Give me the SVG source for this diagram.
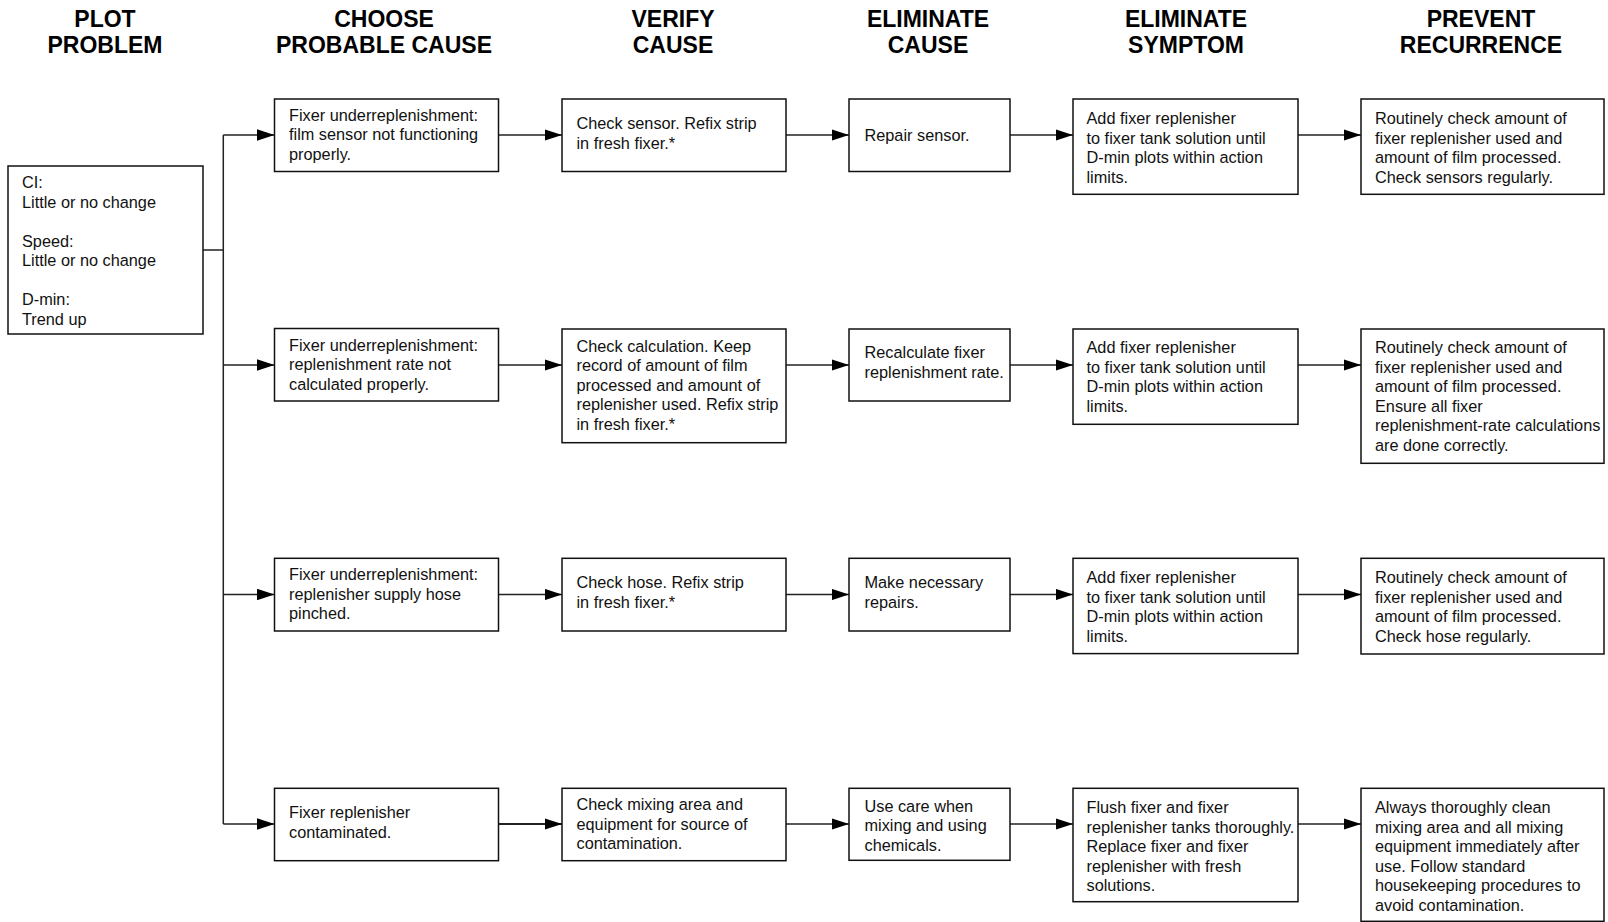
<svg xmlns="http://www.w3.org/2000/svg" width="1608" height="922" viewBox="0 0 1608 922">
  <style>
    .bg { fill: #ffffff; }
    .box { fill: #ffffff; stroke: #111111; stroke-width: 1.5; }
    .hd { font-family: "Liberation Sans", Arial, sans-serif; font-weight: bold; font-size: 23px; fill: #000000; text-anchor: middle; }
    .tx { font-family: "Liberation Sans", Arial, sans-serif; font-size: 16.3px; fill: #111111; }
    .ln { fill: none; stroke: #222222; stroke-width: 1.5; }
    .ar { fill: none; stroke: #222222; stroke-width: 1.5; marker-end: url(#head); }
  </style>
  <defs>
    <marker id="head" viewBox="0 0 17.5 11.5" refX="17.5" refY="5.75" markerWidth="17.5" markerHeight="11.5" markerUnits="userSpaceOnUse" orient="auto">
      <path d="M0,0 L17.5,5.75 L0,11.5 Z" fill="#000000"/>
    </marker>
  </defs>

  <rect class="bg" x="0" y="0" width="1608" height="922"/>

  <!-- column headings -->
  <g id="headings">
    <text class="hd" x="105" y="27">PLOT</text>
    <text class="hd" x="105" y="53">PROBLEM</text>
    <text class="hd" x="384" y="27">CHOOSE</text>
    <text class="hd" x="384" y="53">PROBABLE CAUSE</text>
    <text class="hd" x="673" y="27">VERIFY</text>
    <text class="hd" x="673" y="53">CAUSE</text>
    <text class="hd" x="928" y="27">ELIMINATE</text>
    <text class="hd" x="928" y="53">CAUSE</text>
    <text class="hd" x="1186" y="27">ELIMINATE</text>
    <text class="hd" x="1186" y="53">SYMPTOM</text>
    <text class="hd" x="1481" y="27">PREVENT</text>
    <text class="hd" x="1481" y="53">RECURRENCE</text>
  </g>

  <!-- connectors -->
  <g id="connectors">
    <path class="ln" d="M203,250 H223.3 M223.3,135 V824"/>
    <path class="ar" d="M223.3,135 H274.5"/>
    <path class="ar" d="M223.3,365 H274.5"/>
    <path class="ar" d="M223.3,594.5 H274.5"/>
    <path class="ar" d="M223.3,824 H274.5"/>

    <path class="ar" d="M498.5,135 H562"/>
    <path class="ar" d="M786,135 H849"/>
    <path class="ar" d="M1010,135 H1073"/>
    <path class="ar" d="M1298,135 H1361"/>

    <path class="ar" d="M498.5,365 H562"/>
    <path class="ar" d="M786,365 H849"/>
    <path class="ar" d="M1010,365 H1073"/>
    <path class="ar" d="M1298,365 H1361"/>

    <path class="ar" d="M498.5,594.5 H562"/>
    <path class="ar" d="M786,594.5 H849"/>
    <path class="ar" d="M1010,594.5 H1073"/>
    <path class="ar" d="M1298,594.5 H1361"/>

    <path class="ar" d="M498.5,824 H562" style="stroke-width:2"/>
    <path class="ar" d="M786,824 H849"/>
    <path class="ar" d="M1010,824 H1073"/>
    <path class="ar" d="M1298,824 H1361"/>
  </g>

  <!-- plot problem -->
  <g id="plot">
    <rect class="box" x="8" y="166" width="195" height="168"/>
    <text class="tx">
      <tspan x="22" y="188">CI:</tspan>
      <tspan x="22" y="207.5">Little or no change</tspan>
      <tspan x="22" y="246.5">Speed:</tspan>
      <tspan x="22" y="266">Little or no change</tspan>
      <tspan x="22" y="305">D-min:</tspan>
      <tspan x="22" y="324.5">Trend up</tspan>
    </text>
  </g>

  <!-- row 1 -->
  <g id="cause1">
    <rect class="box" x="274.5" y="99" width="224" height="72.5"/>
    <text class="tx">
      <tspan x="289" y="120.5">Fixer underreplenishment:</tspan>
      <tspan x="289" y="140">film sensor not functioning</tspan>
      <tspan x="289" y="159.5">properly.</tspan>
    </text>
  </g>
  <g id="verify1">
    <rect class="box" x="562" y="99" width="224" height="72.5"/>
    <text class="tx">
      <tspan x="576.5" y="129.3">Check sensor. Refix strip</tspan>
      <tspan x="576.5" y="148.8">in fresh fixer.*</tspan>
    </text>
  </g>
  <g id="elimcause1">
    <rect class="box" x="849" y="99" width="161" height="72.5"/>
    <text class="tx"><tspan x="864.5" y="141">Repair sensor.</tspan></text>
  </g>
  <g id="elimsymptom1">
    <rect class="box" x="1073" y="99" width="225" height="95.3"/>
    <text class="tx">
      <tspan x="1086.5" y="124">Add fixer replenisher</tspan>
      <tspan x="1086.5" y="143.5">to fixer tank solution until</tspan>
      <tspan x="1086.5" y="163">D-min plots within action</tspan>
      <tspan x="1086.5" y="182.5">limits.</tspan>
    </text>
  </g>
  <g id="prevent1">
    <rect class="box" x="1361" y="99" width="243" height="95.3"/>
    <text class="tx">
      <tspan x="1375" y="124">Routinely check amount of</tspan>
      <tspan x="1375" y="143.5">fixer replenisher used and</tspan>
      <tspan x="1375" y="163">amount of film processed.</tspan>
      <tspan x="1375" y="182.5">Check sensors regularly.</tspan>
    </text>
  </g>

  <!-- row 2 -->
  <g id="cause2">
    <rect class="box" x="274.5" y="328.5" width="224" height="72.5"/>
    <text class="tx">
      <tspan x="289" y="350.5">Fixer underreplenishment:</tspan>
      <tspan x="289" y="370">replenishment rate not</tspan>
      <tspan x="289" y="389.5">calculated properly.</tspan>
    </text>
  </g>
  <g id="verify2">
    <rect class="box" x="562" y="329" width="224" height="113.7"/>
    <text class="tx">
      <tspan x="576.5" y="351.7">Check calculation. Keep</tspan>
      <tspan x="576.5" y="371.2">record of amount of film</tspan>
      <tspan x="576.5" y="390.7">processed and amount of</tspan>
      <tspan x="576.5" y="410.2">replenisher used. Refix strip</tspan>
      <tspan x="576.5" y="429.7">in fresh fixer.*</tspan>
    </text>
  </g>
  <g id="elimcause2">
    <rect class="box" x="849" y="329" width="161" height="72"/>
    <text class="tx">
      <tspan x="864.5" y="358.3">Recalculate fixer</tspan>
      <tspan x="864.5" y="377.8">replenishment rate.</tspan>
    </text>
  </g>
  <g id="elimsymptom2">
    <rect class="box" x="1073" y="329" width="225" height="95.3"/>
    <text class="tx">
      <tspan x="1086.5" y="353.3">Add fixer replenisher</tspan>
      <tspan x="1086.5" y="372.8">to fixer tank solution until</tspan>
      <tspan x="1086.5" y="392.3">D-min plots within action</tspan>
      <tspan x="1086.5" y="411.8">limits.</tspan>
    </text>
  </g>
  <g id="prevent2">
    <rect class="box" x="1361" y="329" width="243" height="134.3"/>
    <text class="tx">
      <tspan x="1375" y="353.3">Routinely check amount of</tspan>
      <tspan x="1375" y="372.8">fixer replenisher used and</tspan>
      <tspan x="1375" y="392.3">amount of film processed.</tspan>
      <tspan x="1375" y="411.8">Ensure all fixer</tspan>
      <tspan x="1375" y="431.3">replenishment-rate calculations</tspan>
      <tspan x="1375" y="450.8">are done correctly.</tspan>
    </text>
  </g>

  <!-- row 3 -->
  <g id="cause3">
    <rect class="box" x="274.5" y="558.3" width="224" height="72.7"/>
    <text class="tx">
      <tspan x="289" y="580">Fixer underreplenishment:</tspan>
      <tspan x="289" y="599.5">replenisher supply hose</tspan>
      <tspan x="289" y="619">pinched.</tspan>
    </text>
  </g>
  <g id="verify3">
    <rect class="box" x="562" y="558.3" width="224" height="72.7"/>
    <text class="tx">
      <tspan x="576.5" y="588.3">Check hose. Refix strip</tspan>
      <tspan x="576.5" y="607.8">in fresh fixer.*</tspan>
    </text>
  </g>
  <g id="elimcause3">
    <rect class="box" x="849" y="558.3" width="161" height="72.7"/>
    <text class="tx">
      <tspan x="864.5" y="588.3">Make necessary</tspan>
      <tspan x="864.5" y="607.8">repairs.</tspan>
    </text>
  </g>
  <g id="elimsymptom3">
    <rect class="box" x="1073" y="558.3" width="225" height="95.3"/>
    <text class="tx">
      <tspan x="1086.5" y="583">Add fixer replenisher</tspan>
      <tspan x="1086.5" y="602.5">to fixer tank solution until</tspan>
      <tspan x="1086.5" y="622">D-min plots within action</tspan>
      <tspan x="1086.5" y="641.5">limits.</tspan>
    </text>
  </g>
  <g id="prevent3">
    <rect class="box" x="1361" y="558.3" width="243" height="95.7"/>
    <text class="tx">
      <tspan x="1375" y="583">Routinely check amount of</tspan>
      <tspan x="1375" y="602.5">fixer replenisher used and</tspan>
      <tspan x="1375" y="622">amount of film processed.</tspan>
      <tspan x="1375" y="641.5">Check hose regularly.</tspan>
    </text>
  </g>

  <!-- row 4 -->
  <g id="cause4">
    <rect class="box" x="274.5" y="788.3" width="224" height="72.4"/>
    <text class="tx">
      <tspan x="289" y="818.3">Fixer replenisher</tspan>
      <tspan x="289" y="837.8">contaminated.</tspan>
    </text>
  </g>
  <g id="verify4">
    <rect class="box" x="562" y="788.3" width="224" height="72.4"/>
    <text class="tx">
      <tspan x="576.5" y="810">Check mixing area and</tspan>
      <tspan x="576.5" y="829.5">equipment for source of</tspan>
      <tspan x="576.5" y="849">contamination.</tspan>
    </text>
  </g>
  <g id="elimcause4">
    <rect class="box" x="849" y="788.3" width="161" height="72"/>
    <text class="tx">
      <tspan x="864.5" y="811.5">Use care when</tspan>
      <tspan x="864.5" y="831">mixing and using</tspan>
      <tspan x="864.5" y="850.5">chemicals.</tspan>
    </text>
  </g>
  <g id="elimsymptom4">
    <rect class="box" x="1073" y="788.3" width="225" height="113.4"/>
    <text class="tx">
      <tspan x="1086.5" y="813.3">Flush fixer and fixer</tspan>
      <tspan x="1086.5" y="832.8">replenisher tanks thoroughly.</tspan>
      <tspan x="1086.5" y="852.3">Replace fixer and fixer</tspan>
      <tspan x="1086.5" y="871.8">replenisher with fresh</tspan>
      <tspan x="1086.5" y="891.3">solutions.</tspan>
    </text>
  </g>
  <g id="prevent4">
    <rect class="box" x="1361" y="788.3" width="243" height="133"/>
    <text class="tx">
      <tspan x="1375" y="813.3">Always thoroughly clean</tspan>
      <tspan x="1375" y="832.8">mixing area and all mixing</tspan>
      <tspan x="1375" y="852.3">equipment immediately after</tspan>
      <tspan x="1375" y="871.8">use. Follow standard</tspan>
      <tspan x="1375" y="891.3">housekeeping procedures to</tspan>
      <tspan x="1375" y="910.8">avoid contamination.</tspan>
    </text>
  </g>
</svg>
